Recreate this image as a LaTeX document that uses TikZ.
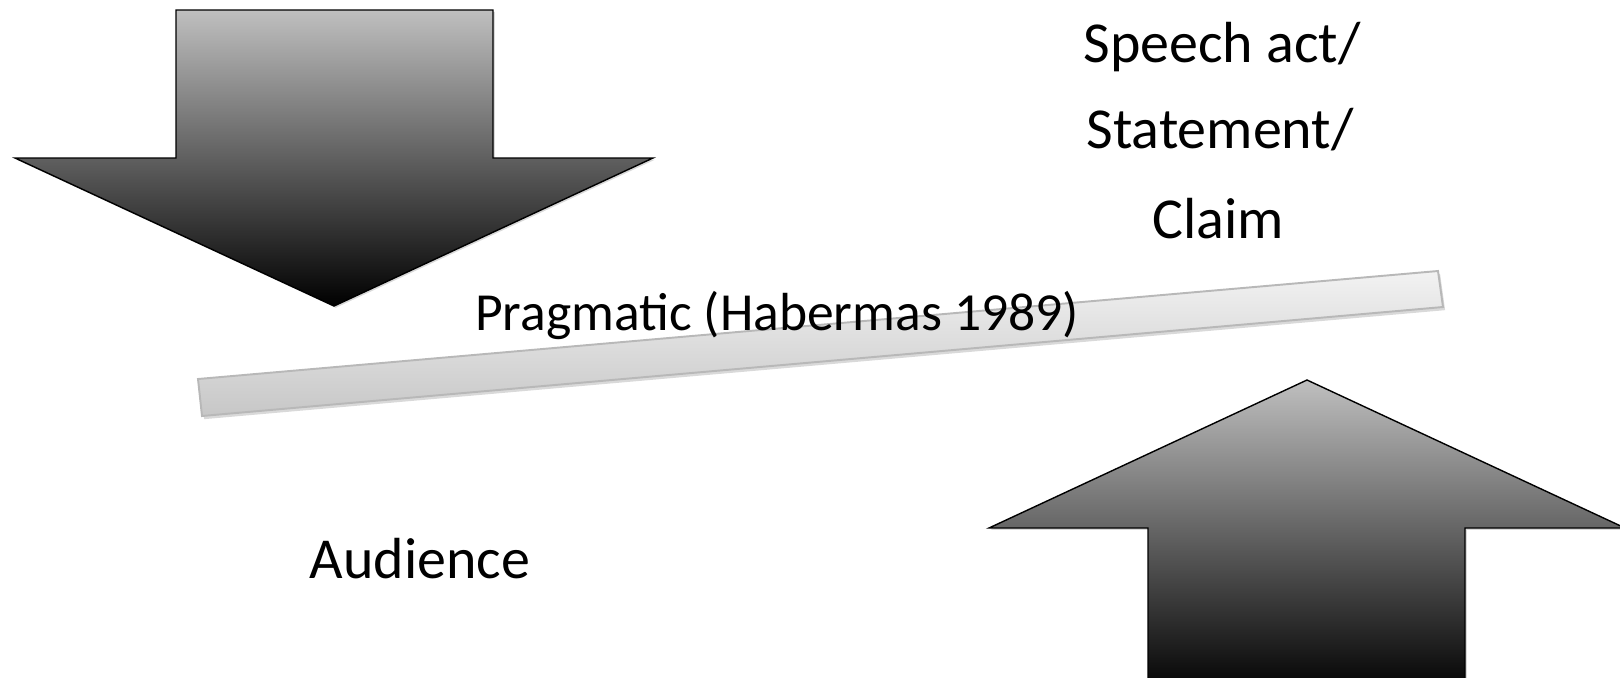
\documentclass[tikz,border=0pt]{standalone}
\usepackage{fontspec}
\setmainfont{Carlito}
\usetikzlibrary{shadows}

\tikzset{
  bigarrow/.style={draw=black, line width=0.8pt, line join=miter,
    top color=black!25, bottom color=black,
    drop shadow={opacity=0.3, shadow xshift=1pt, shadow yshift=-1pt}},
  plank/.style={draw=black!28, line width=1.1pt,
    top color=black!5, bottom color=black!22,
    drop shadow={opacity=0.3, shadow xshift=1.2pt, shadow yshift=-1.8pt}},
  lbl/.style={font=\fontsize{33}{40}\selectfont, inner sep=0pt, anchor=base}
}

\begin{document}
\begin{tikzpicture}[x=0.02cm, y=-0.02cm]
\useasboundingbox (0,0) rectangle (1620,677);
\clip (0,0) rectangle (1620,677);

% arrow pointing down
\draw[bigarrow] (176,10) -- (493,10) -- (493,158) -- (653,158) -- (334,306)
  -- (15,158) -- (176,158) -- cycle;

% arrow pointing up
\draw[bigarrow] (1148,695) -- (1148,528) -- (989,528) -- (1307,380)
  -- (1625,528) -- (1465,528) -- (1465,695) -- cycle;

% tilted bar
\draw[plank] (198,379) -- (1438,271) -- (1443,307) -- (202,416) -- cycle;

\node[lbl] (speech) at (1222,62) {Speech act/};
\node[lbl] (statement) at (1220,148) {Statement/};
\node[lbl] (claim) at (1218,238) {Claim};

\node[lbl, font=\fontsize{30.5}{36}\selectfont] (pragmatic) at (777,330) {Pragmatic (Habermas 1989)};

\node[lbl] (audience) at (420,578) {Audience};
\end{tikzpicture}
\end{document}
